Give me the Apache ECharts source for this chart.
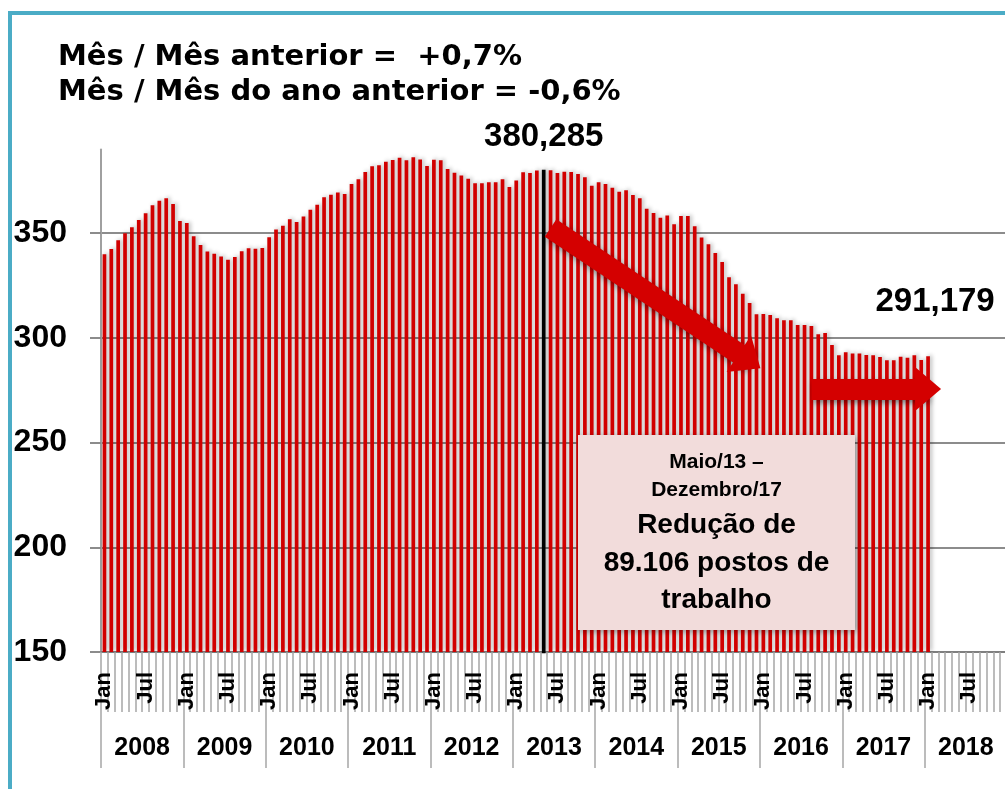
<html>
<head>
<meta charset="utf-8">
<script src="https://cdn.jsdelivr.net/npm/echarts@6/dist/echarts.min.js"></script>
</head>
<body>
<style>
    html, body, #main { width: 100%; height: 100%; margin: 0; background: #fff; }
</style>
<div id="main"></div>
<script>
// postos de trabalho (milhares), por mês
var v2008 = [339.9, 342.4, 346.6, 350.0, 352.8, 356.3, 359.5, 363.3, 365.5, 366.7, 363.9, 355.8];
var v2009 = [354.9, 348.5, 344.4, 341.2, 340.2, 338.8, 337.3, 338.6, 341.4, 342.8, 342.6, 342.9];
var v2010 = [348.0, 351.8, 353.6, 356.6, 355.3, 357.9, 361.2, 363.6, 367.1, 368.4, 369.4, 368.7];
var v2011 = [373.5, 375.7, 379.2, 381.9, 382.4, 384.1, 384.9, 386.0, 384.8, 386.2, 385.2, 382.1];
var v2012 = [385.1, 384.8, 380.7, 378.9, 377.5, 376.0, 373.8, 373.8, 374.3, 374.3, 375.7, 372.1];
var v2013 = [375.2, 379.1, 378.7, 379.9, 380.285, 380.0, 378.7, 379.3, 379.2, 378.3, 376.7, 372.7];
var v2014 = [374.3, 373.5, 371.7, 369.8, 370.5, 368.2, 366.7, 361.7, 359.6, 357.4, 358.4, 354.2];
var v2015 = [358.2, 358.2, 353.3, 347.9, 344.7, 340.5, 336.2, 328.9, 325.6, 321.1, 316.7, 311.3];
var v2016 = [311.4, 310.9, 309.4, 308.4, 308.4, 306.2, 306.2, 305.7, 301.7, 302.3, 296.6, 291.7];
var v2017 = [293.1, 292.5, 292.5, 291.8, 291.7, 290.9, 289.3, 289.3, 291.0, 290.5, 291.7, 289.4];
var v2018 = [291.179];

var years = ['2008', '2009', '2010', '2011', '2012', '2013', '2014', '2015', '2016', '2017', '2018'];
var months = ['Jan', 'Fev', 'Mar', 'Abr', 'Mai', 'Jun', 'Jul', 'Ago', 'Set', 'Out', 'Nov', 'Dez'];
var yTicks = [150, 200, 250, 300, 350];

var peakIndex = 64;   // Maio/13
var lastIndex = 120;  // ultimo mes

var categories = [];
years.forEach(function (y) {
    months.forEach(function (m) { categories.push(m + ' ' + y); });
});

var values = [].concat(v2008, v2009, v2010, v2011, v2012, v2013, v2014, v2015, v2016, v2017, v2018);

var fmt = function (v) { return v.toFixed(3).replace('.', ','); };

var bigLabel = {
    show: true,
    position: 'top',
    fontFamily: 'Liberation Sans',
    fontWeight: 'bold',
    fontSize: 33,
    color: '#000',
    formatter: function (p) { return fmt(p.value); }
};

var barData = values.map(function (v, i) {
    if (i === peakIndex) {
        return {
            value: v,
            itemStyle: { borderColor: '#000', borderWidth: 2.5 },
            label: Object.assign({}, bigLabel, { distance: 16 })
        };
    }
    if (i === lastIndex) {
        return {
            value: v,
            label: Object.assign({}, bigLabel, { distance: 38, offset: [7, 0] })
        };
    }
    return v;
});

var chart = echarts.init(document.getElementById('main'));
var font = 'Liberation Sans';
var boxFont = function (size) { return 'bold ' + size + 'px "Liberation Sans"'; };
var boxText = function (txt, y, size) {
    return {
        type: 'text', x: 716.5, y: y, z: 60,
        style: { text: txt, align: 'center', verticalAlign: 'middle', font: boxFont(size), fill: '#000' }
    };
};

var option = {
    animation: false,
    grid: { left: 101, top: 149.4, width: 906, height: 502.6, outerBoundsMode: 'none' },
    xAxis: [{
        type: 'category',
        data: categories,
        boundaryGap: true,
        axisLine: { show: true, lineStyle: { color: '#7f7f7f', width: 2 } },
        axisTick: { show: true, alignWithLabel: false, interval: 0, length: 60, lineStyle: { color: '#a6a6a6', width: 1.5 } },
        axisLabel: {
            interval: function (i) { return i % 6 === 0; },
            formatter: function (v) { return v.split(' ')[0]; },
            rotate: 90,
            margin: 20,
            fontFamily: font,
            fontWeight: 'bold',
            fontSize: 22,
            color: '#000'
        },
        splitLine: { show: false }
    }, {
        type: 'category',
        data: years,
        position: 'bottom',
        axisLine: { show: false },
        axisTick: { show: true, alignWithLabel: false, interval: 0, length: 116, lineStyle: { color: '#a6a6a6', width: 1.5 } },
        axisLabel: {
            interval: 0,
            margin: 84,
            fontFamily: font,
            fontWeight: 'bold',
            fontSize: 25,
            color: '#000'
        }
    }],
    yAxis: {
        type: 'value',
        min: yTicks[0],
        max: 390,
        interval: 50,
        axisLine: { show: true, lineStyle: { color: '#a0a0a0', width: 2 } },
        axisTick: { show: true, length: 11, lineStyle: { color: '#8c8c8c', width: 2 } },
        axisLabel: {
            showMaxLabel: false,
            margin: 34,
            fontFamily: font,
            fontWeight: 'bold',
            fontSize: 32,
            color: '#000'
        },
        splitLine: { showMaxLine: false, lineStyle: { color: '#8c8c8c', width: 2 } }
    },
    title: {
        text: 'Mês / Mês anterior =  +0,7%\nMês / Mês do ano anterior = -0,6%',
        left: 58,
        top: 40,
        padding: 0,
        textStyle: {
            fontFamily: 'DejaVu Sans',
            fontWeight: 'bold',
            fontSize: 29,
            lineHeight: 35,
            color: '#000'
        }
    },
    series: [{
        type: 'bar',
        data: barData,
        barWidth: '54%',
        itemStyle: {
            color: '#d10000',
            shadowColor: 'rgba(0,0,0,0.28)',
            shadowBlur: 4,
            shadowOffsetX: 2,
            shadowOffsetY: -1
        },
        emphasis: { disabled: true },
        markLine: {
            silent: true,
            symbol: ['none', 'triangle'],
            symbolSize: [44, 26],
            label: { show: false },
            lineStyle: {
                type: 'solid',
                color: '#d40000',
                width: 21,
                shadowColor: 'rgba(0,0,0,0.45)',
                shadowBlur: 6,
                shadowOffsetX: 2,
                shadowOffsetY: 3
            },
            data: [
                [{ coord: [65, 352.5] }, { coord: [94, 289] }],
                [{ coord: [103, 275.6] }, { coord: [119.7, 275.6] }]
            ],
            z: 5
        },
        z: 2
    }],
    graphic: [{
        type: 'rect',
        shape: { x: 10, y: 13, width: 1200, height: 1000 },
        style: { fill: 'none', stroke: '#4bacc6', lineWidth: 4 },
        z: 100,
        silent: true
    }, {
        type: 'rect',
        z: 50,
        shape: { x: 578, y: 435, width: 277, height: 195 },
        style: {
            fill: '#f2dcdb',
            shadowColor: 'rgba(0,0,0,0.35)',
            shadowBlur: 6,
            shadowOffsetX: 2,
            shadowOffsetY: 2
        }
    },
    boxText('Maio/13 –', 462, 21),
    boxText('Dezembro/17', 490, 21),
    boxText('Redução de', 525, 28),
    boxText('89.106 postos de', 563, 28),
    boxText('trabalho', 600, 28)]
};

chart.setOption(option);
window.onresize = chart.resize;
</script>
</body>
</html>
